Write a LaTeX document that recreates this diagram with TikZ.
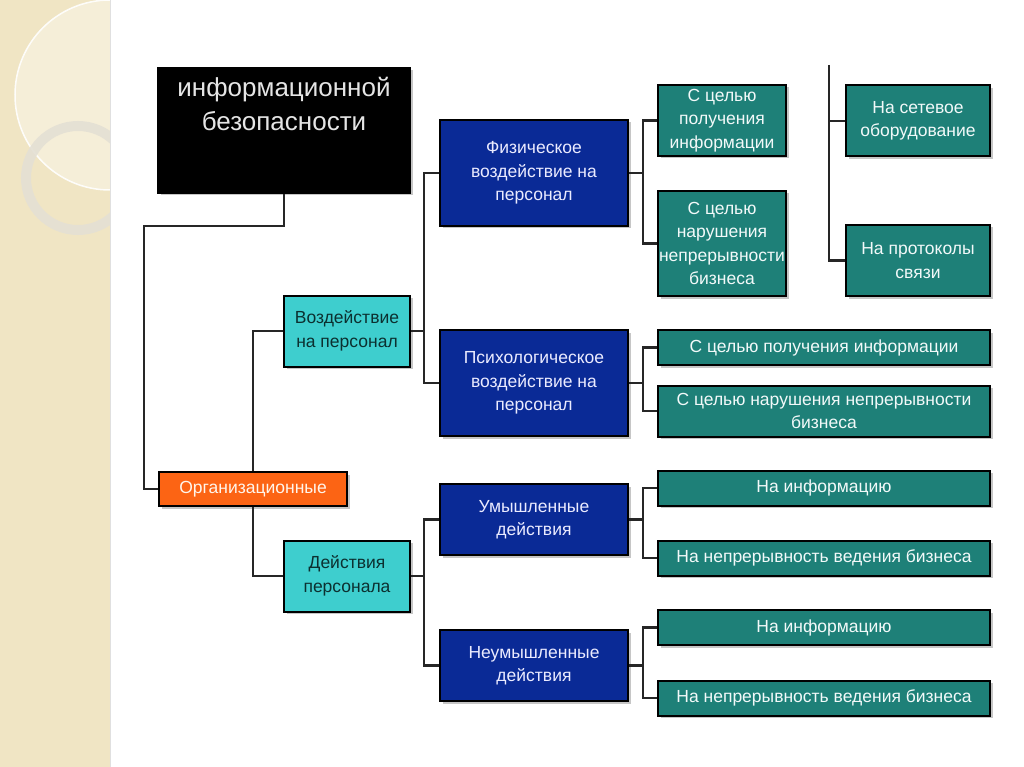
\documentclass[tikz,border=0pt]{standalone}
\usepackage{fontspec}
\setmainfont{Liberation Sans}
\usetikzlibrary{shadows}
\definecolor{orgorange}{RGB}{252,100,20}
\definecolor{boxcyan}{RGB}{62,206,206}
\definecolor{deepblue}{RGB}{10,42,150}
\definecolor{seateal}{RGB}{30,128,120}
\definecolor{stripbeige}{RGB}{240,229,196}
\definecolor{darktext}{RGB}{12,48,48}
\definecolor{ringgrey}{RGB}{228,224,212}

\tikzset{
  box/.style={draw=black, line width=2pt, align=center, inner sep=0.5pt,
    drop shadow={shadow xshift=2.5pt, shadow yshift=-2.5pt, fill=black!50, opacity=0.45},
    font=\fontsize{17.5}{23.5}\selectfont},
  titlebox/.style={box, fill=black, text=white!90!black, text width=242pt, minimum width=252pt,
    minimum height=125pt, font=\fontsize{26}{34}\selectfont},
  orgbox/.style={box, fill=orgorange, text=white!92!orange, minimum width=188pt, minimum height=34pt},
  kindbox/.style={box, fill=boxcyan, text=darktext, minimum width=126pt, minimum height=71pt},
  actbox/.style={box, fill=deepblue, text=white!92!blue, minimum width=188pt, minimum height=71pt},
  aimbox/.style={box, fill=seateal, text=white!95!teal, minimum width=128pt, minimum height=71pt},
  objbox/.style={box, fill=seateal, text=white!95!teal, minimum width=144pt, minimum height=71pt},
  widebox/.style={box, fill=seateal, text=white!95!teal, minimum width=332pt, minimum height=35pt},
  link/.style={draw=black!85, line width=2.5pt, line join=miter}
}

\begin{document}
\begin{tikzpicture}[x=1pt, y=-1pt]
    \useasboundingbox (0,0) rectangle (1024,767);
    % the beige strip on the left with its rings
    \fill[stripbeige] (0,0) rectangle (110,767);
    \begin{scope}
      \clip (0,0) rectangle (110,767);
      \fill[white, opacity=0.35] (110,95) circle (95pt);
      \draw[white, line width=1.5pt, opacity=0.9] (110,95) circle (95pt);
      \draw[ringgrey, line width=10pt, opacity=0.9] (78,178) circle (52pt);
    \end{scope}
    \draw[black!12, line width=1pt] (110.5,0) -- (110.5,767);
    % First, locate each of the boxes and name them
    \node[titlebox, anchor=north] (title) at (284,67) {информационной\\безопасности\\[20pt]\mbox{}};
    \node[orgbox] (org) at (253,489) {Организационные};
    \node[kindbox] (vozd) at (347,331) {Воздействие\\на персонал};
    \node[kindbox] (dejst) at (347,576) {Действия\\персонала};
    \node[actbox, minimum height=106pt] (fiz) at (534,173) {Физическое\\воздействие на\\персонал};
    \node[actbox, minimum height=106pt] (psih) at (534,383) {Психологическое\\воздействие на\\персонал};
    \node[actbox] (umysh) at (534,519.5) {Умышленные\\действия};
    \node[actbox] (neumysh) at (534,665.5) {Неумышленные\\действия};
    \node[aimbox] (cpol) at (722,120.5) {С целью\\получения\\информации};
    \node[aimbox, minimum height=105pt] (cnar) at (722,243.5) {С целью\\нарушения\\непрерывности\\бизнеса};
    \node[objbox] (setev) at (918,121) {На сетевое\\оборудование};
    \node[objbox] (prot) at (918,260.5) {На протоколы\\связи};
    \node[widebox] (cpolw) at (824,347.5) {С целью получения информации};
    \node[widebox, minimum height=51pt] (cnarw) at (824,411) {С целью нарушения непрерывности\\бизнеса};
    \node[widebox] (infa) at (824,488) {На информацию};
    \node[widebox] (nepa) at (824,558) {На непрерывность ведения бизнеса};
    \node[widebox] (infb) at (824,627.5) {На информацию};
    \node[widebox] (nepb) at (824,698) {На непрерывность ведения бизнеса};
    % the bends of the lines
    \coordinate (tbend) at (144,226);
    \coordinate (busa) at (424,0);
    \coordinate (busb) at (643,0);
    \coordinate (busc) at (829,0);
    \coordinate (ctop) at (829,65);
    % Now draw the lines
    \draw[link] (title.south) |- (tbend) |- (org.west);
    \draw[link] (vozd.west) -| (org.north);
    \draw[link] (dejst.west) -| (org.south);
    \draw[link] (fiz.west) -- (fiz.west -| busa) -- (psih.west -| busa) -- (psih.west);
    \draw[link] (vozd.east) -- (vozd.east -| busa);
    \draw[link] (umysh.west) -- (umysh.west -| busa) -- (neumysh.west -| busa) -- (neumysh.west);
    \draw[link] (dejst.east) -- (dejst.east -| busa);
    \draw[link] (cpol.west) -- (cpol.west -| busb) -- (cnar.west -| busb) -- (cnar.west);
    \draw[link] (fiz.east) -- (fiz.east -| busb);
    \draw[link] (ctop) -- (prot.west -| busc) -- (prot.west);
    \draw[link] (setev.west) -- (setev.west -| busc);
    \draw[link] (cpolw.west) -- (cpolw.west -| busb) -- (cnarw.west -| busb) -- (cnarw.west);
    \draw[link] (psih.east) -- (psih.east -| busb);
    \draw[link] (infa.west) -- (infa.west -| busb) -- (nepa.west -| busb) -- (nepa.west);
    \draw[link] (umysh.east) -- (umysh.east -| busb);
    \draw[link] (infb.west) -- (infb.west -| busb) -- (nepb.west -| busb) -- (nepb.west);
    \draw[link] (neumysh.east) -- (neumysh.east -| busb);
\end{tikzpicture}
\end{document}
